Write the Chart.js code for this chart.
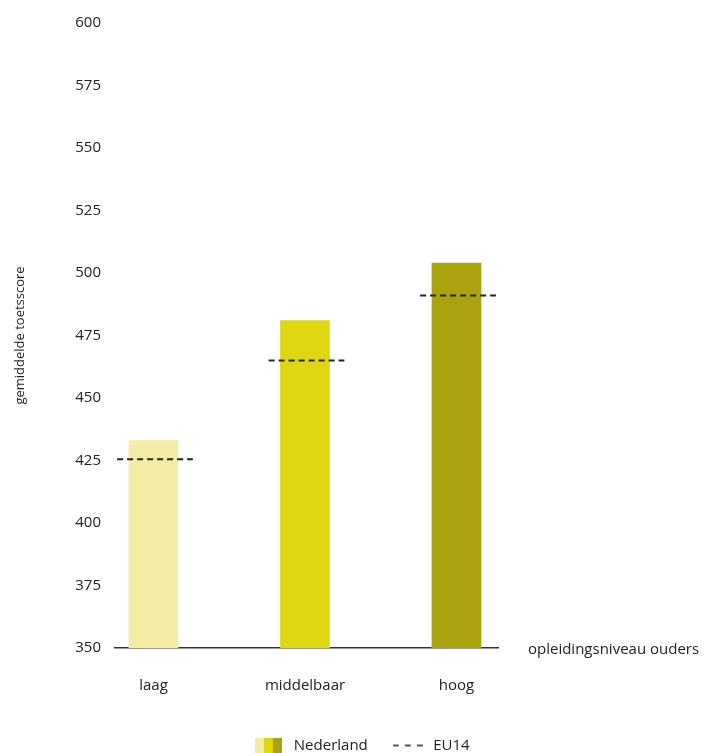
<!DOCTYPE html>
<html>
<head>
<meta charset="utf-8">
<script src="https://cdn.jsdelivr.net/npm/chart.js@4.4.1/dist/chart.umd.min.js"></script>
<style>
    html, body { margin: 0; padding: 0; background: #fff; }
    #wrap { width: 707px; height: 753px; }
</style>
</head>
<body>
<div id="wrap"><canvas id="scoreChart" width="707" height="753"></canvas></div>
<script>
// Data
const categories = ['laag', 'middelbaar', 'hoog'];
const nederland = [433, 481, 504];
const eu14 = [425.5, 465, 491];
const yTicks = [350, 375, 400, 425, 450, 475, 500, 525, 550, 575, 600];
const barColors = ['#f3eda6', '#dfd614', '#aaa20f'];

const FONT = '"Open Sans", sans-serif';
const TEXT = '#222';

// EU14 reference dashes: one short segment per category, broken by null points
const eu14Points = [];
eu14.forEach((v, i) => {
    eu14Points.push({ x: i - 0.24, y: v });
    eu14Points.push({ x: i + 0.26, y: v });
    eu14Points.push({ x: i + 0.5, y: null });
});

// Legend swatches drawn on small canvases
function makeSwatch() {
    const c = document.createElement('canvas');
    c.width = 27; c.height = 16;
    const g = c.getContext('2d');
    barColors.forEach((col, i) => {
        g.fillStyle = col;
        g.fillRect(i * 9, 0, 9, 16);
    });
    return c;
}
function makeDash() {
    const c = document.createElement('canvas');
    c.width = 30; c.height = 16;
    const g = c.getContext('2d');
    g.strokeStyle = TEXT;
    g.lineWidth = 1.5;
    g.setLineDash([6, 6]);
    g.beginPath();
    g.moveTo(0, 8);
    g.lineTo(30, 8);
    g.stroke();
    return c;
}

// Axis title to the right of the x axis line, and legend nudged into place
const layoutPlugin = {
    id: 'layoutTweaks',
    afterLayout(chart) {
        const lg = chart.legend;
        if (lg) {
            lg.left = 0;
            lg.right = 720;
            lg.top += 10;
            lg.bottom += 10;
        }
    },
    afterDraw(chart) {
        const ctx = chart.ctx;
        const area = chart.chartArea;
        ctx.save();
        ctx.font = '15px ' + FONT;
        ctx.fillStyle = TEXT;
        ctx.textAlign = 'left';
        ctx.textBaseline = 'middle';
        ctx.fillText('opleidingsniveau ouders', area.right + 30, area.bottom + 2);
        ctx.restore();
    }
};

const ctx = document.getElementById('scoreChart');

new Chart(ctx, {
    data: {
        datasets: [{
            type: 'bar',
            label: 'Nederland',
            data: nederland.map((v, i) => ({ x: i, y: v })),
            backgroundColor: barColors,
            borderWidth: 0,
            barThickness: 49,
            order: 2
        }, {
            type: 'line',
            label: 'EU14',
            data: eu14Points,
            borderColor: TEXT,
            borderWidth: 2,
            borderDash: [6, 4],
            pointRadius: 0,
            spanGaps: false,
            fill: false,
            order: 1
        }]
    },
    options: {
        responsive: false,
        animation: false,
        layout: {
            padding: { top: 22, right: 209, left: 0, bottom: 0 }
        },
        plugins: {
            tooltip: { enabled: false },
            legend: {
                position: 'bottom',
                labels: {
                    usePointStyle: true,
                    pointStyleWidth: 36,
                    boxHeight: 16,
                    padding: 22,
                    color: TEXT,
                    font: { family: FONT, size: 15 },
                    generateLabels() {
                        return [
                            { text: 'Nederland', pointStyle: makeSwatch(), fontColor: TEXT, lineWidth: 0, datasetIndex: 0 },
                            { text: 'EU14', pointStyle: makeDash(), fontColor: TEXT, lineWidth: 0, datasetIndex: 1 }
                        ];
                    }
                }
            }
        },
        scales: {
            x: {
                type: 'linear',
                offset: false,
                min: -0.254,
                max: 2.274,
                grid: { display: false, drawTicks: false, offset: false },
                border: { display: true, color: '#333', width: 1.5 },
                afterBuildTicks(scale) {
                    scale.ticks = categories.map((c, i) => ({ value: i }));
                },
                afterFit(scale) {
                    const lg = scale.chart.legend;
                    scale.height = 753 - 648 - (lg ? lg.height : 0);
                },
                ticks: {
                    padding: 29,
                    color: TEXT,
                    font: { family: FONT, size: 15 },
                    callback: (v) => categories[v]
                }
            },
            y: {
                min: 350,
                max: 600,
                grid: { display: false, drawTicks: false },
                border: { display: false },
                afterBuildTicks(scale) {
                    scale.ticks = yTicks.map(v => ({ value: v }));
                },
                afterFit(scale) {
                    scale.width = 115;
                },
                ticks: {
                    padding: 14,
                    color: TEXT,
                    font: { family: FONT, size: 15 }
                },
                title: {
                    display: true,
                    text: 'gemiddelde toetsscore',
                    color: TEXT,
                    font: { family: FONT, size: 13 },
                    padding: { top: 12, bottom: 0 }
                }
            }
        }
    },
    plugins: [layoutPlugin]
});
</script>
</body>
</html>
